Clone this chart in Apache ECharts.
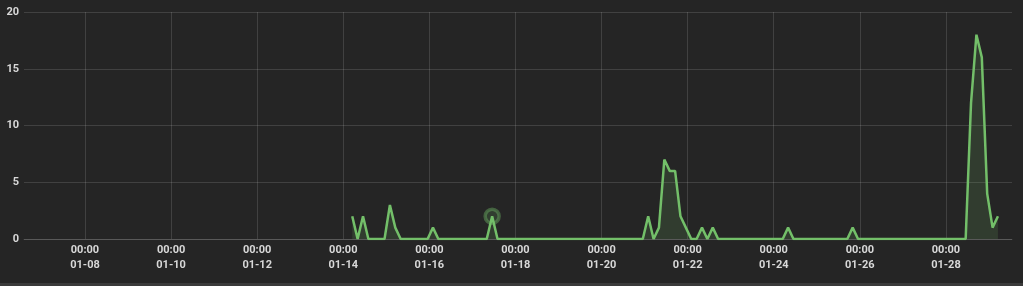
<!DOCTYPE html>
<html>
<head>
<meta charset="utf-8">
<script src="https://cdn.jsdelivr.net/npm/echarts@6/dist/echarts.min.js"></script>
<style>
html,body{margin:0;padding:0;background:#3a3a3a;}
#frame{position:absolute;left:0;top:0;width:1023px;height:283px;background:#252525;}
#chart{position:absolute;left:0;top:0;width:1023px;height:283px;}
</style>
</head>
<body>
<div id="frame"><div id="chart"></div></div>
<script>
// data
const startTime = '2024-01-14 05:00';
const stepHours = 3;
const values = [
  2,0,2,0,0,0,0,3,1,0,   // 0-9
  0,0,0,0,0,1,0,0,0,0,   // 10-19
  0,0,0,0,0,0,2,0,0,0,   // 20-29
  0,0,0,0,0,0,0,0,0,0,   // 30-39
  0,0,0,0,0,0,0,0,0,0,   // 40-49
  0,0,0,0,0,2,0,1,7,6,   // 50-59
  6,2,1,0,0,1,0,1,0,0,   // 60-69
  0,0,0,0,0,0,0,0,0,0,   // 70-79
  0,1,0,0,0,0,0,0,0,0,   // 80-89
  0,0,0,1,0,0,0,0,0,0,   // 90-99
  0,0,0,0,0,0,0,0,0,0,   // 100-109
  0,0,0,0,0,12,18,16,4,1, // 110-119
  2                       // 120
];
const highlightIndex = 26;
const xTickLabels = ['2024-01-08 00:00','2024-01-10 00:00','2024-01-12 00:00','2024-01-14 00:00','2024-01-16 00:00','2024-01-18 00:00','2024-01-20 00:00','2024-01-22 00:00','2024-01-24 00:00','2024-01-26 00:00','2024-01-28 00:00'];
const yTicks = [0,5,10,15,20];
const xMin = '2024-01-06 14:00';
const xMax = '2024-01-29 12:50';

function parseT(s){ const [d,t]=s.split(' '); const [Y,M,D]=d.split('-').map(Number); const [h,m]=t.split(':').map(Number); return new Date(Y,M-1,D,h,m).getTime(); }
const t0 = parseT(startTime);
const seriesData = values.map((v,i)=>[t0 + i*stepHours*3600000, v]);
const tickVals = xTickLabels.map(parseT);

const chart = echarts.init(document.getElementById('chart'), null, {renderer:'canvas'});
const labelColor = '#d8d8d8';
const gridColor = 'rgba(255,255,255,0.13)';
chart.setOption({
  backgroundColor: 'transparent',
  animation: false,
  grid: {left: 24, right: 11, top: 12, bottom: 44, containLabel: false},
  xAxis: {
    type: 'value',
    min: parseT(xMin), max: parseT(xMax),
    axisLine: {show: true, lineStyle: {color: gridColor}},
    axisTick: {show: false, customValues: tickVals},
    splitLine: {show: true, lineStyle: {color: gridColor, width: 1}},
    axisLabel: {
      customValues: tickVals,
      color: labelColor, fontSize: 11, fontWeight: 'bold', fontFamily: 'Roboto, sans-serif',
      lineHeight: 15, margin: 4, showMinLabel: true, showMaxLabel: true,
      formatter: function(v){ const d=new Date(v); const p=n=>String(n).padStart(2,'0'); return p(d.getHours())+':'+p(d.getMinutes())+'\n'+p(d.getMonth()+1)+'-'+p(d.getDate()); }
    }
  },
  yAxis: {
    type: 'value', min: yTicks[0], max: yTicks[yTicks.length-1], interval: 5,
    axisLine: {show: false}, axisTick: {show: false},
    splitLine: {show: true, lineStyle: {color: gridColor, width: 1}},
    axisLabel: {color: labelColor, fontSize: 11, fontWeight: 'bold', fontFamily: 'Roboto, sans-serif', margin: 5}
  },
  series: [
    {
      type: 'scatter', z: 1,
      data: [seriesData[highlightIndex]],
      symbol: 'circle', symbolSize: 14,
      itemStyle: {color: 'rgba(115,191,105,0.2)', borderColor: 'rgba(115,191,105,0.5)', borderWidth: 3.5},
      silent: true
    },
    {
      type: 'line', z: 2,
      data: seriesData,
      showSymbol: false, symbol: 'none',
      lineStyle: {color: '#73bf69', width: 2.5},
      areaStyle: {color: 'rgba(115,191,105,0.22)'}
    }
  ]
});
</script>
</body>
</html>
